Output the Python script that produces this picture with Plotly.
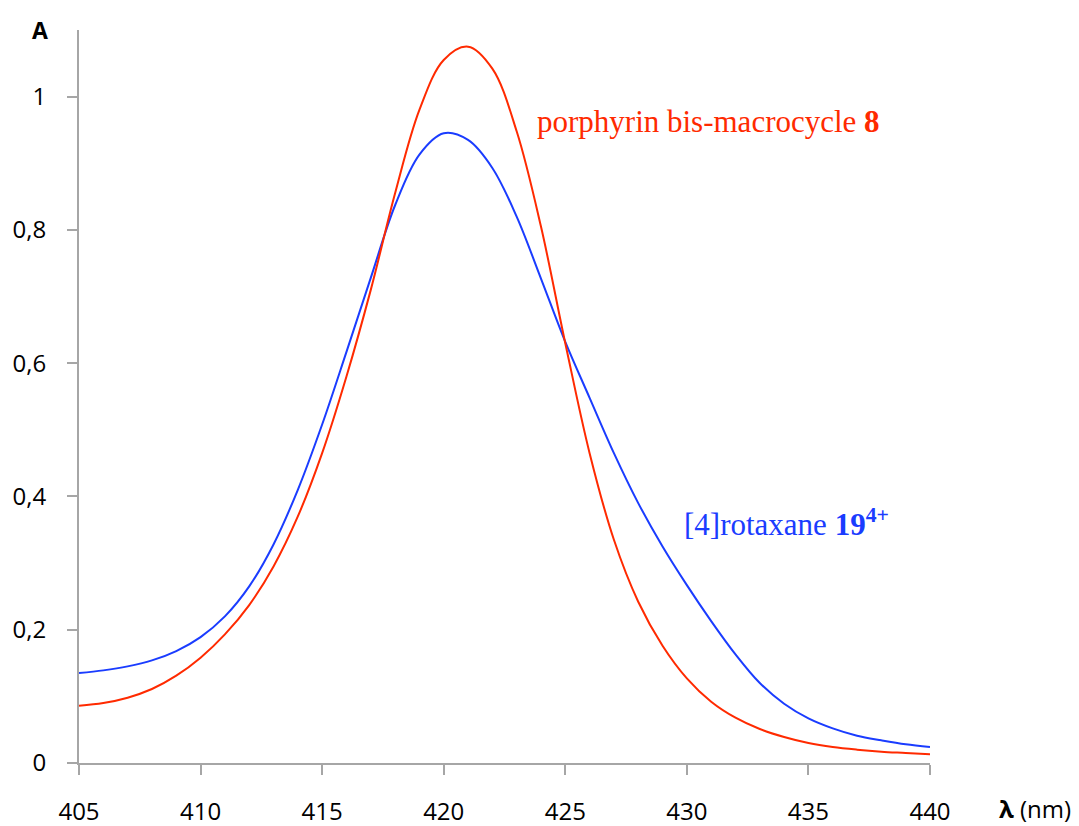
import plotly.graph_objects as go

# wavelengths (nm) and absorbance
wavelength = list(range(405, 441))

porphyrin_8 = [
    0.086, 0.090, 0.098, 0.111, 0.131, 0.158, 0.193, 0.237, 0.295, 0.370,
    0.465, 0.580, 0.710, 0.855, 0.980, 1.055, 1.075, 1.042, 0.948, 0.805,
    0.630, 0.465, 0.335, 0.242, 0.176, 0.127, 0.092, 0.068, 0.051, 0.039,
    0.030, 0.024, 0.020, 0.017, 0.015, 0.013,
]

rotaxane_19 = [
    0.135, 0.139, 0.145, 0.154, 0.168, 0.189, 0.220, 0.265, 0.328, 0.410,
    0.508, 0.617, 0.728, 0.837, 0.913, 0.945, 0.935, 0.893, 0.820, 0.727,
    0.632, 0.548, 0.465, 0.390, 0.325, 0.267, 0.213, 0.163, 0.120, 0.089,
    0.067, 0.052, 0.041, 0.034, 0.028, 0.024,
]

x_ticks = [405, 410, 415, 420, 425, 430, 435, 440]
y_ticks = [0, 0.2, 0.4, 0.6, 0.8, 1]

RED = "#ff2a00"
BLUE = "#1a3cff"
AXIS = "#a6a6a6"
SERIF = "Liberation Serif, Times New Roman, serif"

fig = go.Figure()
fig.add_trace(go.Scatter(
    x=wavelength, y=rotaxane_19, mode="lines",
    line=dict(color=BLUE, width=2, shape="spline", smoothing=1.0),
    name="[4]rotaxane 19⁴⁺",
))
fig.add_trace(go.Scatter(
    x=wavelength, y=porphyrin_8, mode="lines",
    line=dict(color=RED, width=2, shape="spline", smoothing=1.0),
    name="porphyrin bis-macrocycle 8",
))

fig.update_layout(
    width=1079,
    height=826,
    margin=dict(l=79, r=149, t=30, b=63),
    paper_bgcolor="white",
    plot_bgcolor="white",
    showlegend=False,
    separators=", ",
    font=dict(family="Open Sans, Arial, sans-serif", size=24, color="black"),
)

axis_style = dict(
    showgrid=False,
    zeroline=False,
    showline=True,
    linecolor=AXIS,
    linewidth=2,
    ticks="outside",
    ticklen=10,
    tickwidth=2,
    tickcolor=AXIS,
    automargin=False,
)
fig.update_xaxes(range=[405, 440], tickvals=x_ticks, ticklabelstandoff=16, **axis_style)
fig.update_yaxes(range=[0, 1.1], tickvals=y_ticks, ticklabelstandoff=16, **axis_style)

# axis titles
fig.add_annotation(
    x=-39 / 851, y=1.0, xref="paper", yref="paper",
    text="<b>A</b>", showarrow=False, xanchor="center", yanchor="middle",
    font=dict(size=23),
)
fig.add_annotation(
    x=1.0 + 105 / 851, y=-46 / 733, xref="paper", yref="paper",
    text="<b>λ</b> (nm)", showarrow=False, xanchor="center", yanchor="middle",
    font=dict(size=24),
)

# curve labels
fig.add_annotation(
    x=405 + (708 - 79) / 24.31, y=(763 - 122) / 666, xref="x", yref="y",
    text="porphyrin bis-macrocycle <b>8</b>", showarrow=False,
    font=dict(family=SERIF, size=31, color=RED),
)
fig.add_annotation(
    x=405 + (786 - 79) / 24.31, y=(763 - 523) / 666, xref="x", yref="y",
    text="[4]rotaxane <b>19<sup>4+</sup></b>", showarrow=False,
    font=dict(family=SERIF, size=31, color=BLUE),
)

# drop the default page margin so the figure fills the window exactly
fig.write_html(
    "out.html",
    config={"displayModeBar": False},
    post_script="document.body.style.margin = '0px';",
)
